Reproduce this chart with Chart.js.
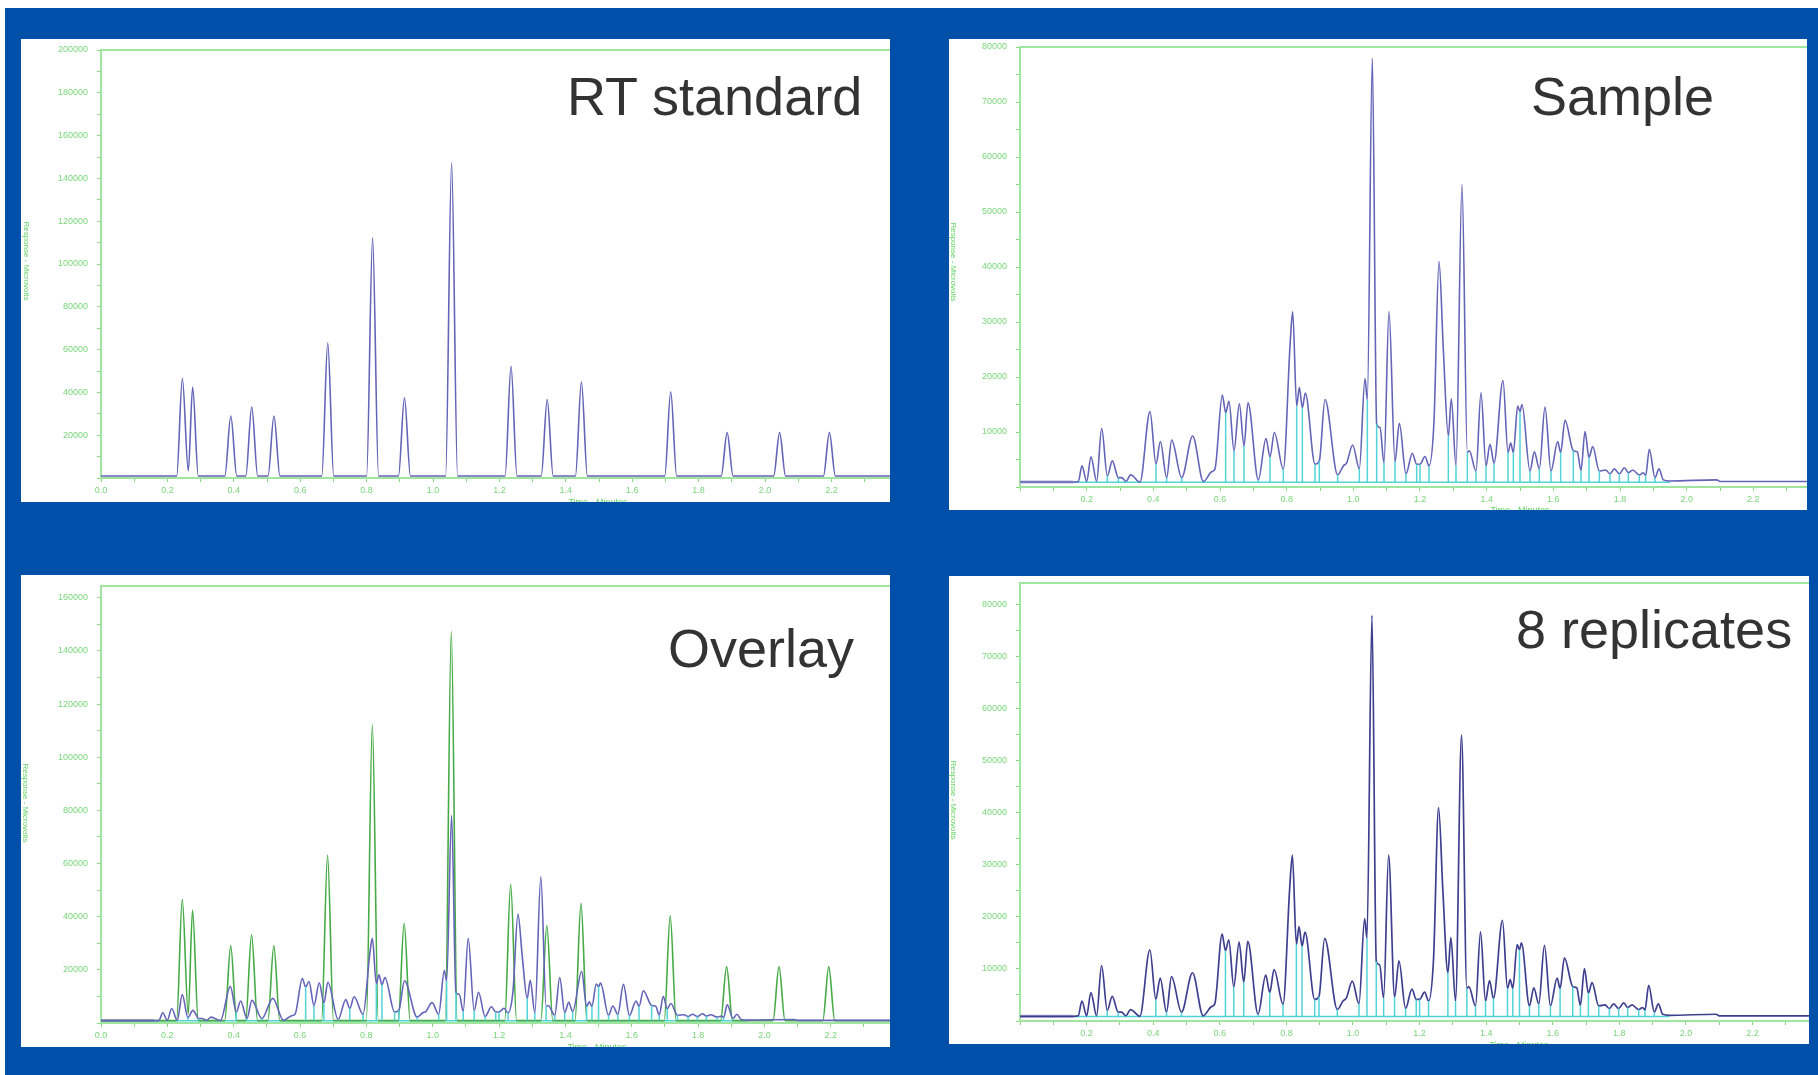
<!DOCTYPE html>
<html><head><meta charset="utf-8">
<script src="https://cdn.jsdelivr.net/npm/chart.js@4.4.1/dist/chart.umd.min.js"></script>
<style>
html,body{margin:0;padding:0;background:#fff;width:1818px;height:1075px;overflow:hidden;font-family:"Liberation Sans",Arial,sans-serif;}
#bg{position:absolute;left:5px;top:8px;width:1813px;height:1067px;background:#0050aa;}
.panel{position:absolute;background:#fff;overflow:hidden;}
.panel canvas{position:absolute;left:0;top:0;}
.big{position:absolute;font-size:54px;line-height:54px;color:#333;white-space:nowrap;}
.ytitle{position:absolute;writing-mode:vertical-rl;font-size:8px;line-height:8px;color:#62d462;white-space:nowrap;transform:translateY(-50%);}
.xtitle{position:absolute;font-size:9px;line-height:9px;color:#62d462;white-space:nowrap;transform:translateX(-50%);}
</style></head>
<body>
<div id="bg"></div>
<div class="panel" id="p1" style="left:21px;top:39px;width:869px;height:463px;">
  <canvas id="c1" width="869" height="463"></canvas>
  <div class="big" style="left:546px;top:30px;">RT standard</div>
  <div class="ytitle" style="left:1px;top:222px;">Response - Microvolts</div>
  <div class="xtitle" style="left:577px;top:459px;">Time - Minutes</div>
</div>
<div class="panel" id="p2" style="left:949px;top:39px;width:858px;height:471px;">
  <canvas id="c2" width="858" height="471"></canvas>
  <div class="big" style="left:582px;top:30px;">Sample</div>
  <div class="ytitle" style="left:0px;top:223px;">Response - Microvolts</div>
  <div class="xtitle" style="left:571px;top:467px;">Time - Minutes</div>
</div>
<div class="panel" id="p3" style="left:21px;top:575px;width:869px;height:472px;">
  <canvas id="c3" width="869" height="472"></canvas>
  <div class="big" style="left:647px;top:46px;">Overlay</div>
  <div class="ytitle" style="left:0px;top:228px;">Response - Microvolts</div>
  <div class="xtitle" style="left:576px;top:468px;">Time - Minutes</div>
</div>
<div class="panel" id="p4" style="left:949px;top:576px;width:860px;height:468px;">
  <canvas id="c4" width="860" height="468"></canvas>
  <div class="big" style="left:567px;top:26px;">8 replicates</div>
  <div class="ytitle" style="left:0px;top:224px;">Response - Microvolts</div>
  <div class="xtitle" style="left:570px;top:465px;">Time - Minutes</div>
</div>
<script>
// ---------- data ----------
// RT standard trace (minutes, microvolts)
const rtTime = [0, 0.228, 0.245, 0.263, 0.276, 0.293,
  0.373, 0.391, 0.409, 0.436, 0.454, 0.472, 0.503, 0.521, 0.539,
  0.665, 0.683, 0.701, 0.800, 0.818, 0.836, 0.896, 0.914, 0.932,
  1.038, 1.056, 1.074, 1.217, 1.235, 1.253, 1.326, 1.344, 1.362,
  1.429, 1.447, 1.465, 1.698, 1.716, 1.734, 1.868, 1.886, 1.904,
  2.026, 2.044, 2.062, 2.176, 2.194, 2.212, 2.38];
const rtResp = [900, 900, 46500, 3400, 42500, 900,
  900, 29000, 900, 900, 33200, 900, 900, 29000, 900,
  900, 63100, 900, 900, 112200, 900, 900, 37500, 900,
  900, 147300, 900, 900, 52200, 900, 900, 36700, 900,
  900, 45000, 900, 900, 40300, 900, 900, 21200, 900,
  900, 21200, 900, 900, 21200, 900, 900];

// Sample trace (minutes, microvolts)
const smpTime = [0, 0.16, 0.175, 0.186, 0.2, 0.213, 0.23, 0.245, 0.262, 0.277, 0.295, 0.305, 0.318, 0.332, 0.36,
  0.39, 0.408, 0.421, 0.44, 0.455, 0.485, 0.518, 0.55, 0.575, 0.585, 0.607, 0.617, 0.627, 0.642, 0.658, 0.672, 0.684,
  0.715, 0.738, 0.75, 0.763, 0.79, 0.81, 0.818, 0.83, 0.838, 0.847, 0.856, 0.885, 0.898, 0.915, 0.953, 0.97, 0.98,
  0.998, 1.018, 1.035, 1.042, 1.057, 1.07, 1.08, 1.092, 1.107, 1.125, 1.138, 1.158, 1.177, 1.19, 1.2, 1.215, 1.227,
  1.242, 1.257, 1.27, 1.285, 1.294, 1.308, 1.326, 1.342, 1.348, 1.368, 1.383, 1.398, 1.41, 1.422, 1.449, 1.464,
  1.472, 1.48, 1.493, 1.5, 1.506, 1.53, 1.543, 1.558, 1.575, 1.593, 1.613, 1.622, 1.635, 1.66, 1.672, 1.683, 1.695,
  1.707, 1.718, 1.738, 1.757, 1.77, 1.783, 1.798, 1.813, 1.825, 1.838, 1.858, 1.87, 1.877, 1.888, 1.905, 1.917,
  1.93, 1.95, 2.09, 2.1, 2.38];
const smpResp = [900, 900, 1000, 3840, 1000, 5470, 1000, 10670, 2030, 4750, 1700, 1700, 1000, 2200, 900,
  13700, 4150, 8260, 1700, 8520, 1700, 9280, 1000, 2760, 3300, 16700, 13500, 15600, 6560, 15150, 7470, 15330,
  1300, 8800, 5470, 9900, 3240, 25600, 31900, 14700, 18150, 14400, 17100, 4150, 4750, 15900, 2200, 3840, 4400,
  7650, 3300, 19700, 15900, 78000, 11400, 10800, 4400, 31900, 4600, 11580, 2400, 6140, 4150, 4150, 5540, 3840,
  12000, 41000, 25000, 9280, 16050, 3840, 55000, 6260, 6600, 2900, 17140, 3840, 7770, 4330, 19370, 6260,
  7970, 6260, 14700, 13700, 15000, 2900, 6380, 3300, 14530, 2900, 8260, 6260, 12140, 6600, 6380, 3000, 10070,
  5360, 7360, 2900, 3100, 2400, 3300, 2400, 3500, 2600, 3100, 2200, 2600, 2100, 6870, 1700, 3300,
  1300, 1100, 1300, 1000, 1000];

// integration drop lines (minutes, top response)
const dropTime = [0.23, 0.262, 0.295, 0.318, 0.408, 0.44, 0.485, 0.617, 0.642, 0.672, 0.715, 0.75, 0.79, 0.83,
  0.847, 0.885, 0.898, 0.953, 1.018, 1.042, 1.07, 1.092, 1.125, 1.158, 1.19, 1.2, 1.227, 1.285, 1.308, 1.342,
  1.368, 1.398, 1.422, 1.464, 1.48, 1.5, 1.53, 1.558, 1.593, 1.622, 1.66, 1.683, 1.707, 1.738, 1.77, 1.798,
  1.825, 1.858, 1.877, 1.905];
const dropTop = [1000, 2030, 1700, 1000, 4150, 1700, 1700, 13500, 6560, 7470, 1300, 5470, 3240, 14700,
  14400, 4150, 4750, 2200, 3300, 15900, 11400, 4400, 4600, 2400, 4150, 4150, 3840, 9280, 3840, 6260,
  2900, 3840, 4330, 6260, 6260, 13700, 2900, 3300, 2900, 6260, 6600, 3000, 5360, 2900, 2400, 2400,
  2600, 2200, 2100, 1700];
const dropFloor = 900;
const intBaseTime = [0.16, 1.95];
const intBaseResp = [850, 850];
const leadBaseTime = [0, 0.16];
const leadBaseResp = [900, 900];

// tick labels
const xLabelsFull = [0.0, 0.2, 0.4, 0.6, 0.8, 1.0, 1.2, 1.4, 1.6, 1.8, 2.0, 2.2];
const xLabelsNoZero = [0.2, 0.4, 0.6, 0.8, 1.0, 1.2, 1.4, 1.6, 1.8, 2.0, 2.2];
const rtYLabels = [20000, 40000, 60000, 80000, 100000, 120000, 140000, 160000, 180000, 200000];
const ovYLabels = [20000, 40000, 60000, 80000, 100000, 120000, 140000, 160000];
const smpYLabels = [10000, 20000, 30000, 40000, 50000, 60000, 70000, 80000];

// ---------- helpers ----------
const pts = (ts, vs) => ts.map((t, i) => ({x: t, y: vs[i]}));
const dropPts = () => {
  const out = [];
  dropTime.forEach((t, i) => { out.push({x: t, y: dropFloor}, {x: t, y: dropTop[i]}, {x: t, y: null}); });
  return out;
};
const hasLabel = (list, v) => list.some(l => Math.abs(l - v) < 1e-6);

const AX = '#9fe59f', TK = '#82d982', LBL = '#79d679';
const FONT = {family: '"Liberation Sans", Arial, sans-serif', size: 9};

const topFrame = {
  id: 'topFrame',
  afterDraw(chart) {
    const a = chart.chartArea, ctx = chart.ctx;
    ctx.save();
    ctx.strokeStyle = AX; ctx.lineWidth = 2;
    ctx.beginPath(); ctx.moveTo(a.left, a.top); ctx.lineTo(a.right, a.top); ctx.stroke();
    ctx.restore();
  }
};

function lineDs(data, color, width, order, smooth) {
  return {type: 'line', data, borderColor: color, borderWidth: width, pointRadius: 0,
    fill: false, order, spanGaps: false,
    cubicInterpolationMode: smooth ? 'monotone' : 'default', tension: 0};
}

function stepTicks(max, step) {
  const out = [];
  const n = Math.floor(max / step + 1e-9);
  for (let k = 0; k <= n; k++) out.push({value: Math.round(k * step * 1000) / 1000});
  return out;
}

function make(id, o) {
  const H = document.getElementById(id).height;
  new Chart(document.getElementById(id), {
    type: 'line',
    data: {datasets: o.datasets},
    options: {
      responsive: false, animation: false, events: [],
      layout: {padding: {top: o.top, right: 0, left: 0, bottom: 0}},
      plugins: {legend: {display: false}, tooltip: {enabled: false}, title: {display: false}},
      scales: {
        x: {
          type: 'linear', min: 0, max: o.xMax,
          afterBuildTicks: s => { s.ticks = stepTicks(o.xMax, 0.1); },
          afterFit: s => { s.height = H - o.bottom; s.paddingLeft = 0; s.paddingRight = 0; },
          border: {display: true, color: AX, width: 2},
          grid: {display: true, drawOnChartArea: false, drawTicks: true, tickLength: 4, color: TK, lineWidth: 1},
          ticks: {autoSkip: false, maxRotation: 0, padding: 3, color: LBL, font: FONT,
            callback: v => hasLabel(o.xLabels, v) ? v.toFixed(1) : ''}
        },
        y: {
          type: 'linear', min: 0, max: o.yMax,
          afterBuildTicks: s => { s.ticks = stepTicks(o.yMax, o.yStep); },
          afterFit: s => { s.width = o.left; s.paddingTop = 0; s.paddingBottom = 0; },
          border: {display: true, color: AX, width: 2},
          grid: {display: true, drawOnChartArea: false, drawTicks: true, tickLength: 4, color: TK, lineWidth: 1},
          ticks: {autoSkip: false, padding: 9, color: LBL, font: FONT,
            callback: v => hasLabel(o.yLabels, v) ? String(Math.round(v)) : ''}
        }
      }
    },
    plugins: [topFrame]
  });
}

const BLUE = '#6464b8', DARK = '#3f3f90', GREEN = '#46ab46', CYAN = '#52d3d8', LEAD = '#b2b2d8';

make('c1', {top: 11, bottom: 439, left: 80, xMax: 2.3765, xLabels: xLabelsFull,
  yMax: 200000, yStep: 10000, yLabels: rtYLabels,
  datasets: [lineDs(pts(rtTime, rtResp), BLUE, 1.6, 0, true)]});

make('c2', {top: 8, bottom: 448, left: 71, xMax: 2.361, xLabels: xLabelsNoZero,
  yMax: 80000, yStep: 5000, yLabels: smpYLabels,
  datasets: [
    lineDs(dropPts(), CYAN, 1.5, 0, false),
    lineDs(pts(smpTime, smpResp), BLUE, 1.6, 1, true),
    lineDs(pts(intBaseTime, intBaseResp), CYAN, 1.5, 2, false),
    lineDs(pts(leadBaseTime, leadBaseResp), LEAD, 3, 3, false)
  ]});

make('c3', {top: 11, bottom: 448, left: 80, xMax: 2.3786, xLabels: xLabelsFull,
  yMax: 164400, yStep: 10000, yLabels: ovYLabels,
  datasets: [
    lineDs(dropPts(), CYAN, 1.5, 0, false),
    lineDs(pts(smpTime, smpResp), BLUE, 1.6, 1, true),
    lineDs(pts(rtTime, rtResp), GREEN, 1.6, 2, true),
    lineDs(pts(intBaseTime, intBaseResp), CYAN, 1.5, 3, false),
    lineDs(pts(leadBaseTime, leadBaseResp), LEAD, 3, 4, false)
  ]});

make('c4', {top: 7, bottom: 445, left: 71, xMax: 2.3695, xLabels: xLabelsNoZero,
  yMax: 84200, yStep: 5000, yLabels: smpYLabels,
  datasets: [
    lineDs(dropPts(), CYAN, 1.5, 0, false),
    lineDs(pts(smpTime, smpResp), DARK, 1.7, 1, true),
    lineDs(pts(intBaseTime, intBaseResp), CYAN, 1.5, 2, false),
    lineDs(pts(leadBaseTime, leadBaseResp), LEAD, 3, 3, false)
  ]});
</script>
</body></html>
